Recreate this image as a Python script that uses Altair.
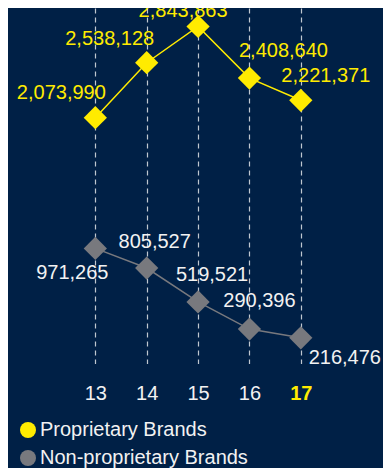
import altair as alt
import pandas as pd

# ---- data ----
YEARS = [13, 14, 15, 16, 17]
PROPRIETARY = [2073990, 2538128, 2843863, 2408640, 2221371]
NON_PROPRIETARY = [971265, 805527, 519521, 290396, 216476]
SERIES = ["Proprietary Brands", "Non-proprietary Brands"]
HIGHLIGHT_YEAR = 17

# ---- styling / layout constants ----
BG = "#002046"
YELLOW = "#FFEB00"
GRAY = "#78797e"
WHITE = "#F2F2F2"
FONT = "Liberation Sans"
FS = 20
# per-label pixel offsets (dx, dy) from the marker, to avoid overlaps as in the reference
UPPER_OFFSETS = [(-34, -25), (-37, -24), (-15, -16), (34, -27), (25, -24)]
LOWER_OFFSETS = [(-23, 25), (8, -26), (14, -27), (10, -28), (44, 20)]

rows = []
for s, vals in zip(SERIES, [PROPRIETARY, NON_PROPRIETARY]):
    for yr, v in zip(YEARS, vals):
        rows.append({"year": yr, "value": v, "series": s, "label": f"{v:,}"})
df = pd.DataFrame(rows)

x = alt.X(
    "year:Q",
    scale=alt.Scale(domain=[11.3, 18.6], nice=False, zero=False),
    axis=alt.Axis(
        values=YEARS, format="d", title=None, grid=True,
        gridDash=[5, 4], gridColor="#ffffff", gridOpacity=0.75, gridWidth=1.2,
        domain=False, ticks=False, labelPadding=20,
        labelFont=FONT, labelFontSize=FS,
        labelColor={"condition": {"test": f"datum.value == {HIGHLIGHT_YEAR}", "value": YELLOW}, "value": WHITE},
        labelFontWeight={"condition": {"test": f"datum.value == {HIGHLIGHT_YEAR}", "value": "bold"}, "value": "normal"},
    ),
)
y = alt.Y("value:Q", scale=alt.Scale(domain=[0, 3000000], nice=False), axis=None)
color = alt.Color(
    "series:N",
    scale=alt.Scale(domain=SERIES, range=[YELLOW, GRAY]),
    legend=alt.Legend(
        title=None, orient="none", legendX=10, legendY=412, direction="vertical",
        symbolType="circle", symbolSize=256, symbolStrokeWidth=0, symbolOpacity=1,
        labelFont=FONT, labelFontSize=FS, labelColor=WHITE, labelOffset=2, labelLimit=400,
        rowPadding=8, padding=0,
    ),
)

base = alt.Chart(df)
lines = base.mark_line(strokeWidth=1.5).encode(x=x, y=y, color=color, detail="series:N")
points = base.mark_point(shape="diamond", filled=True, size=540, opacity=1).encode(x=x, y=y, color=color)

layers = [lines, points]
for s, offs, col in [(SERIES[0], UPPER_OFFSETS, YELLOW), (SERIES[1], LOWER_OFFSETS, WHITE)]:
    for yr, (dx, dy) in zip(YEARS, offs):
        layers.append(
            base.transform_filter((alt.datum.series == s) & (alt.datum.year == yr))
            .mark_text(dx=dx, dy=dy, font=FONT, fontSize=FS, align="center", baseline="middle", color=col)
            .encode(x=x, y=y, text="label:N")
        )

chart = (
    alt.layer(*layers)
    .properties(
        width=375, height=355.5, autosize="none",
        padding={"left": 0, "top": 0, "right": 0, "bottom": 104.5},
        background=BG,
    )
    .configure_view(strokeWidth=0)
)

chart.save("out.html", embed_options={"renderer": "svg", "actions": False})
